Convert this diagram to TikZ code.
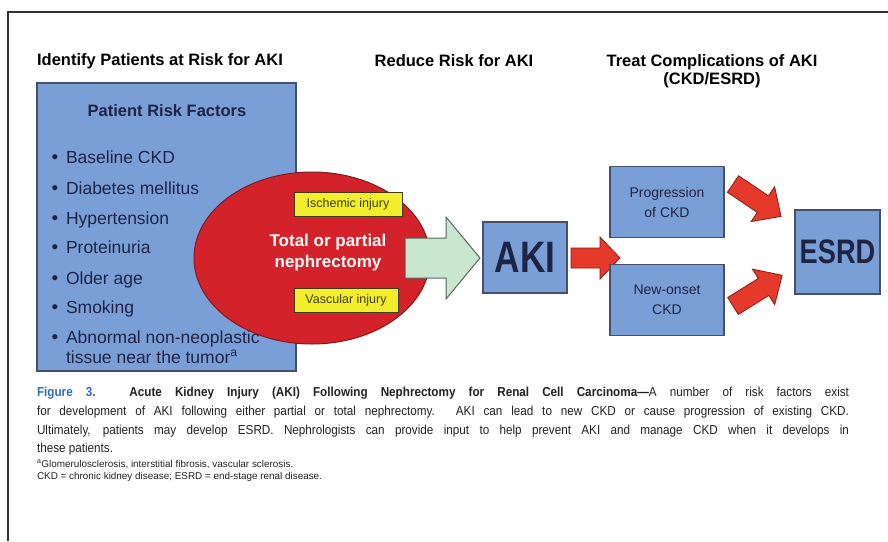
\documentclass[tikz,border=0pt]{standalone}
\usepackage{fontspec}
\setmainfont{Liberation Sans}
\newfontfamily\condfont{Liberation Sans}[FakeStretch=0.80]
\newfontfamily\capfont{Liberation Sans}[FakeStretch=0.90]
\usetikzlibrary{shapes.geometric}
\definecolor{boxblue}{HTML}{7A9FD6}
\definecolor{boxline}{HTML}{46506C}
\definecolor{navy}{HTML}{1E2444}
\definecolor{ellred}{HTML}{D3222A}
\definecolor{ellline}{HTML}{7E1C1C}
\definecolor{yel}{HTML}{F3EE2C}
\definecolor{yelline}{HTML}{3E3C18}
\definecolor{yeltext}{HTML}{3F3C10}
\definecolor{grn}{HTML}{C9E6CF}
\definecolor{grnline}{HTML}{55675A}
\definecolor{arrred}{HTML}{E4392B}
\definecolor{arrline}{HTML}{8E1B12}
\definecolor{figblue}{HTML}{2F6DB5}
\definecolor{framec}{HTML}{333333}
\definecolor{captext}{HTML}{222222}
\newcommand\BlkArrow[7]{%
  \begin{scope}[shift={#2},rotate=#3]
    \draw[#1] (0,-#5) -- ({#4-#7},-#5) -- ({#4-#7},-#6) -- (#4,0)
      -- ({#4-#7},#6) -- ({#4-#7},#5) -- (0,#5) -- cycle;
  \end{scope}}
\begin{document}
\begin{tikzpicture}[x=1pt,y=-1pt,
  every node/.style={inner sep=0pt, outer sep=0pt},
  heading/.style={font=\fontsize{16.5}{18}\selectfont\bfseries, text=black, align=center},
  bluebox/.style={draw=boxline, fill=boxblue, line width=1.2pt},
  bullettext/.style={anchor=base west, font=\fontsize{17.5}{20}\selectfont, text=navy},
  bulletdot/.style={anchor=base, font=\fontsize{19}{20}\selectfont, text=navy},
  yelbox/.style={draw=yelline, fill=yel, line width=1pt, font=\fontsize{12.5}{14}\selectfont, text=yeltext},
  smallbox/.style={bluebox, minimum width=114pt, minimum height=71pt, align=center, font=\fontsize{14}{20}\selectfont, text=navy},
  capline/.style={anchor=west, font=\capfont\fontsize{13}{15}\selectfont, text=captext},
  fnline/.style={anchor=west, font=\fontsize{9.9}{12}\selectfont, text=captext},
  grnarrow/.style={draw=grnline, fill=grn, line width=1pt, line join=miter},
  redarrow/.style={draw=arrline, fill=arrred, line width=0.8pt, line join=miter}]
\useasboundingbox (0,0) rectangle (888,541);
\fill[white] (0,0) rectangle (888,541);
% frame
\draw[framec, line width=1.2pt] (8,541) -- (8,12) -- (888,12);
% headings
\node[heading] (h1) at (160,61) {Identify Patients at Risk for AKI};
\node[heading] (h2) at (454,61) {Reduce Risk for AKI};
\node[heading] (h3) at (712,71) {Treat Complications of AKI\\(CKD/ESRD)};
% risk factor box
\node[bluebox, minimum width=259pt, minimum height=288pt] (risk) at (166.5,227) {};
\node[font=\fontsize{16.5}{19}\selectfont\bfseries, text=navy] (rtitle) at (167,111) {Patient Risk Factors};
\node[bulletdot] (d1) at (55,163) {•};
\node[bullettext] (b1) at (66,163) {Baseline CKD};
\node[bulletdot] (d2) at (55,194) {•};
\node[bullettext] (b2) at (66,194) {Diabetes mellitus};
\node[bulletdot] (d3) at (55,224) {•};
\node[bullettext] (b3) at (66,224) {Hypertension};
\node[bulletdot] (d4) at (55,253) {•};
\node[bullettext] (b4) at (66,253) {Proteinuria};
\node[bulletdot] (d5) at (55,284) {•};
\node[bullettext] (b5) at (66,284) {Older age};
\node[bulletdot] (d6) at (55,313) {•};
\node[bullettext] (b6) at (66,313) {Smoking};
\node[bulletdot] (d7) at (55,343) {•};
\node[bullettext] (b7) at (66,343) {Abnormal non-neoplastic};
\node[bullettext] (b8) at (66,363) {tissue near the tumor$^{\mathrm{a}}$};
% ellipse
\node[ellipse, draw=ellline, fill=ellred, line width=1pt, minimum width=236pt, minimum height=172pt] (ell) at (312,258) {};
\node[align=center, text=white!92!pink, font=\fontsize{17}{21}\selectfont\bfseries] (neph) at (328,253) {Total or partial\\nephrectomy};
\node[yelbox, minimum width=108pt, minimum height=24pt] (isch) at (348,204) {Ischemic injury};
\node[yelbox, minimum width=104pt, minimum height=24pt] (vasc) at (346,300) {Vascular injury};
% green arrow
\BlkArrow{grnarrow}{(405,258)}{0}{75}{20}{41}{34}
% AKI box
\node[bluebox, minimum width=84pt, minimum height=71pt, font=\condfont\fontsize{44}{44}\selectfont\bfseries, text=navy] (aki) at (525,257.5) {AKI};
% red arrow AKI -> CKD boxes
\BlkArrow{redarrow}{(571,258)}{0}{49}{10}{21}{20}
% CKD boxes
\node[smallbox] (prog) at (667,202) {Progression\\of CKD};
\node[smallbox] (newo) at (667,300) {New-onset\\CKD};
% ESRD box
\node[bluebox, minimum width=85pt, minimum height=84pt, font=\condfont\fontsize{34}{34}\selectfont\bfseries, text=navy] (esrd) at (837.5,252) {ESRD};
% diagonal red arrows
\BlkArrow{redarrow}{(733,184)}{-34}{58}{10}{21}{22}
\BlkArrow{redarrow}{(733,306)}{32}{58}{10}{21}{22}
% caption
\node[capline] (c1) at (37,393) {\makebox[812pt][s]{{\color{figblue}\bfseries Figure 3.} \textbf{Acute Kidney Injury (AKI) Following Nephrectomy for Renal Cell Carcinoma—}A number of risk factors exist}};
\node[capline] (c2) at (37,412) {\makebox[812pt][s]{for development of AKI following either partial or total nephrectomy. AKI can lead to new CKD or cause progression of existing CKD.}};
\node[capline] (c3) at (37,431) {\makebox[812pt][s]{Ultimately, patients may develop ESRD. Nephrologists can provide input to help prevent AKI and manage CKD when it develops in}};
\node[capline] (c4) at (37,449) {these patients.};
\node[fnline] (f1) at (37,464) {$^{\mathrm{a}}$Glomerulosclerosis, interstitial fibrosis, vascular sclerosis.};
\node[fnline] (f2) at (37,477) {CKD = chronic kidney disease; ESRD = end-stage renal disease.};
\end{tikzpicture}
\end{document}
